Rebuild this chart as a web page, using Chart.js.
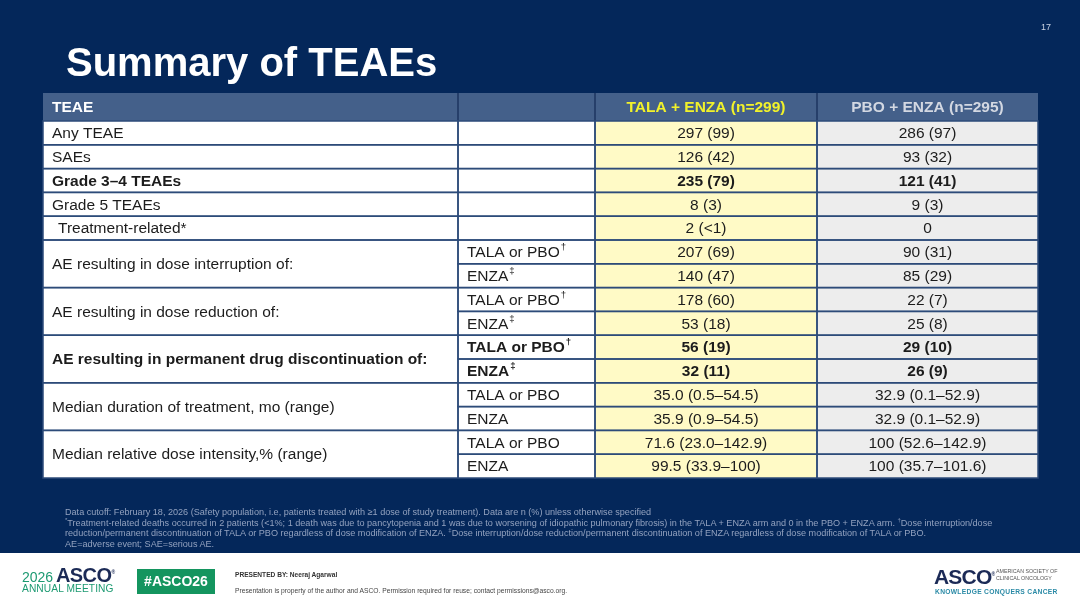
<!DOCTYPE html>
<html>
<head>
<meta charset="utf-8">
<script src="https://cdn.jsdelivr.net/npm/chart.js@4.4.1/dist/chart.umd.min.js"></script>
<style>
  html, body { margin: 0; padding: 0; }
  body { width: 1080px; height: 608px; background: #04275a; position: relative; overflow: hidden;
         font-family: 'Liberation Sans', Arial, sans-serif; }
  #table { position: absolute; left: 0; top: 0; }
  .title { position: absolute; left: 66px; top: 38px; color: #fff; font-weight: bold; font-size: 40px; line-height: 48px; }
  .page { position: absolute; left: 1041px; top: 22px; color: #c9d2e3; font-size: 9px; }
  .notes { position: absolute; left: 65px; top: 507px; color: #93a2bf; font-size: 9.1px; line-height: 10.7px; white-space: nowrap; }
  .notes sup { font-size: 6px; line-height: 0; }
  .footer { position: absolute; left: 0; top: 553px; width: 1080px; height: 55px; background: #fff; }
  .f { position: absolute; white-space: nowrap; }
</style>
</head>
<body>
<canvas id="table" width="1080" height="608"></canvas>
<div class="title">Summary of TEAEs</div>
<div class="page">17</div>
<div class="notes">
  Data cutoff: February 18, 2026 (Safety population, i.e, patients treated with ≥1 dose of study treatment). Data are n (%) unless otherwise specified<br>
  <sup>*</sup>Treatment-related deaths occurred in 2 patients (&lt;1%; 1 death was due to pancytopenia and 1 was due to worsening of idiopathic pulmonary fibrosis) in the TALA + ENZA arm and 0 in the PBO + ENZA arm. <sup>†</sup>Dose interruption/dose<br>
  reduction/permanent discontinuation of TALA or PBO regardless of dose modification of ENZA. <sup>‡</sup>Dose interruption/dose reduction/permanent discontinuation of ENZA regardless of dose modification of TALA or PBO.<br>
  AE=adverse event; SAE=serious AE.
</div>
<div class="footer">
  <div class="f" style="left:22px;top:16px;font-size:14px;color:#1d9a72;">2026</div>
  <div class="f" style="left:56px;top:11px;font-size:20px;font-weight:bold;color:#1b2a56;letter-spacing:-0.6px;">ASCO<sup style="font-size:5px;">®</sup></div>
  <div class="f" style="left:22px;top:30px;font-size:10.2px;color:#1d9a72;letter-spacing:0.1px;">ANNUAL MEETING</div>
  <div class="f" style="left:137px;top:16px;width:78px;height:25px;background:#14955f;color:#fff;font-weight:bold;font-size:14px;line-height:25px;text-align:center;">#ASCO26</div>
  <div class="f" style="left:235px;top:18px;font-size:6.6px;font-weight:bold;color:#333;">PRESENTED BY: Neeraj Agarwal</div>
  <div class="f" style="left:235px;top:34px;font-size:6.7px;color:#444;">Presentation is property of the author and ASCO. Permission required for reuse; contact permissions@asco.org.</div>
  <div class="f" style="left:934px;top:12px;font-size:21px;font-weight:bold;color:#1b2a56;letter-spacing:-0.8px;">ASCO<sup style="font-size:5px;">®</sup></div>
  <div class="f" style="left:996px;top:15px;font-size:5.3px;line-height:7px;color:#555;">AMERICAN SOCIETY OF<br>CLINICAL ONCOLOGY</div>
  <div class="f" style="left:935px;top:35px;font-size:6.7px;font-weight:bold;color:#2a8aa6;letter-spacing:0.3px;">KNOWLEDGE CONQUERS CANCER</div>
</div>

<script>
// table content
const headers = ['TEAE', '', 'TALA + ENZA (n=299)', 'PBO + ENZA (n=295)'];
const categories = [
  'Any TEAE', 'SAEs', 'Grade 3–4 TEAEs', 'Grade 5 TEAEs', 'Treatment-related*',
  'AE resulting in dose interruption of:', 'AE resulting in dose reduction of:',
  'AE resulting in permanent drug discontinuation of:',
  'Median duration of treatment, mo (range)', 'Median relative dose intensity,% (range)'
];
const subgroups = [
  [''], [''], [''], [''], [''],
  ['TALA or PBO†', 'ENZA‡'], ['TALA or PBO†', 'ENZA‡'], ['TALA or PBO†', 'ENZA‡'],
  ['TALA or PBO', 'ENZA'], ['TALA or PBO', 'ENZA']
];
const talaEnza = [
  ['297 (99)'], ['126 (42)'], ['235 (79)'], ['8 (3)'], ['2 (<1)'],
  ['207 (69)', '140 (47)'], ['178 (60)', '53 (18)'], ['56 (19)', '32 (11)'],
  ['35.0 (0.5–54.5)', '35.9 (0.9–54.5)'], ['71.6 (23.0–142.9)', '99.5 (33.9–100)']
];
const pboEnza = [
  ['286 (97)'], ['93 (32)'], ['121 (41)'], ['9 (3)'], ['0'],
  ['90 (31)', '85 (29)'], ['22 (7)', '25 (8)'], ['29 (10)', '26 (9)'],
  ['32.9 (0.1–52.9)', '32.9 (0.1–52.9)'], ['100 (52.6–142.9)', '100 (35.7–101.6)']
];
const boldRows = ['Grade 3–4 TEAEs', 'AE resulting in permanent drug discontinuation of:'];
const indentedRows = ['Treatment-related*'];

// layout
const colWidths = [415, 137, 222, 221];
const headerSpan = 28 / 23.8;
const FONT = "'Liberation Sans', Arial, sans-serif";
const colFill = ['#ffffff', '#ffffff', '#fffac6', '#ededed'];
const headColor = ['#ffffff', '#ffffff', '#f2f22a', '#d3d8e2'];

const colEdges = colWidths.reduce((a, w) => a.concat(a[a.length - 1] + w), [0]);
const totalRows = subgroups.reduce((s, g) => s + g.length, 0);

function drawText(ctx, text, x, y, size, bold, align, color) {
  let sup = '';
  if (/[†‡]$/.test(text)) { sup = text.slice(-1); text = text.slice(0, -1); }
  ctx.fillStyle = color;
  ctx.textBaseline = 'middle';
  ctx.font = (bold ? 'bold ' : '') + size + 'px ' + FONT;
  const w = ctx.measureText(text).width;
  ctx.font = (bold ? 'bold ' : '') + (size * 0.62) + 'px ' + FONT;
  const sw = sup ? ctx.measureText(sup).width + 1 : 0;
  let left = x;
  if (align === 'center') left = x - (w + sw) / 2;
  ctx.font = (bold ? 'bold ' : '') + size + 'px ' + FONT;
  ctx.textAlign = 'left';
  ctx.fillText(text, left, y + 1);
  if (sup) {
    ctx.font = (bold ? 'bold ' : '') + (size * 0.62) + 'px ' + FONT;
    ctx.fillText(sup, left + w + 1, y - size * 0.28);
  }
}

const tablePlugin = {
  id: 'teaeTable',
  afterDraw(chart) {
    const { ctx, scales: { x, y } } = chart;
    const X = v => x.getPixelForValue(v);
    const Y = v => y.getPixelForValue(v);
    ctx.save();

    // header band
    ctx.fillStyle = '#44608a';
    ctx.fillRect(X(0), Y(-headerSpan), X(colEdges[4]) - X(0), Y(0) - Y(-headerSpan));
    headers.forEach((h, c) => {
      if (!h) return;
      const yc = (Y(-headerSpan) + Y(0)) / 2;
      if (c === 0) drawText(ctx, h, X(colEdges[0]) + 9, yc, 15.5, true, 'left', headColor[c]);
      else drawText(ctx, h, (X(colEdges[c]) + X(colEdges[c + 1])) / 2, yc, 15.5, true, 'center', headColor[c]);
    });
    ctx.strokeStyle = '#1c355f';
    ctx.lineWidth = 1.5;
    for (let c = 1; c < 4; c++) {
      ctx.beginPath();
      ctx.moveTo(X(colEdges[c]), Y(-headerSpan));
      ctx.lineTo(X(colEdges[c]), Y(0));
      ctx.stroke();
    }

    // body cells
    const cells = [];
    let r = 0;
    categories.forEach((cat, i) => {
      const n = subgroups[i].length;
      const bold = boldRows.includes(cat);
      cells.push({ c: 0, r0: r, r1: r + n, text: cat, bold, indent: indentedRows.includes(cat) });
      subgroups[i].forEach((s, k) => {
        cells.push({ c: 1, r0: r + k, r1: r + k + 1, text: s, bold });
        cells.push({ c: 2, r0: r + k, r1: r + k + 1, text: talaEnza[i][k], bold });
        cells.push({ c: 3, r0: r + k, r1: r + k + 1, text: pboEnza[i][k], bold });
      });
      r += n;
    });

    cells.forEach(cell => {
      const x0 = X(colEdges[cell.c]), x1 = X(colEdges[cell.c + 1]);
      const y0 = Y(cell.r0), y1 = Y(cell.r1);
      ctx.fillStyle = colFill[cell.c];
      ctx.fillRect(x0, y0, x1 - x0, y1 - y0);
    });
    cells.forEach(cell => {
      const x0 = X(colEdges[cell.c]), x1 = X(colEdges[cell.c + 1]);
      const yc = (Y(cell.r0) + Y(cell.r1)) / 2;
      if (!cell.text) return;
      if (cell.c < 2) {
        drawText(ctx, cell.text, x0 + (cell.indent ? 15 : 9), yc, 15.5, cell.bold, 'left', '#1c1c1c');
      } else {
        drawText(ctx, cell.text, (x0 + x1) / 2, yc, 15.5, cell.bold, 'center', '#1c1c1c');
      }
    });
    ctx.strokeStyle = '#2d4b79';
    ctx.lineWidth = 1.5;
    cells.forEach(cell => {
      const x0 = X(colEdges[cell.c]), x1 = X(colEdges[cell.c + 1]);
      const y0 = Y(cell.r0), y1 = Y(cell.r1);
      ctx.strokeRect(x0, y0, x1 - x0, y1 - y0);
    });
    ctx.restore();
  }
};

new Chart(document.getElementById('table'), {
  type: 'scatter',
  data: { datasets: [{ data: [] }] },
  options: {
    responsive: false,
    animation: false,
    events: [],
    layout: { padding: { left: 43, top: 93, right: 42, bottom: 130 } },
    plugins: { legend: { display: false }, tooltip: { enabled: false } },
    scales: {
      x: { type: 'linear', display: false, min: 0, max: colEdges[colEdges.length - 1] },
      y: { type: 'linear', display: false, reverse: true, min: -headerSpan, max: totalRows }
    }
  },
  plugins: [tablePlugin]
});
</script>
</body>
</html>
